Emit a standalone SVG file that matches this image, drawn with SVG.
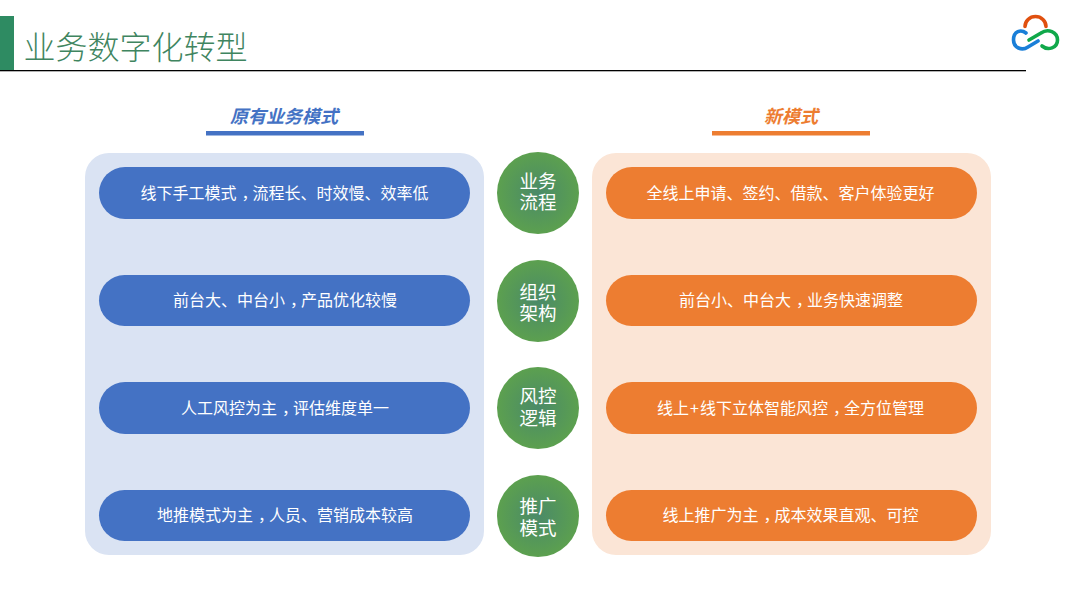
<svg xmlns="http://www.w3.org/2000/svg" width="1074" height="594" viewBox="0 0 1074 594">
<style>
text{font-family:"Noto Sans CJK SC","Liberation Sans",sans-serif;text-anchor:middle}
.pb{fill:#4472c4}.po{fill:#ed7d31}
.p{fill:#fff;font-size:16px}
.k{font-feature-settings:"halt"}
.c{fill:url(#g)}
.ct{fill:#fff;font-size:18.5px}
.h{font-size:18px;font-weight:700;font-style:italic}
</style>
<defs>
<radialGradient id="g"><stop offset="0" stop-color="#4a8a68"/><stop offset="1" stop-color="#5ca04f"/></radialGradient>
</defs>
<rect width="1074" height="594" fill="#fff"/>
<g id="header">
<rect x="0" y="16" width="14" height="54" fill="#2e8b62"/>
<text x="135.500" y="59" font-size="32" fill="#3f8560" style="font-weight:300">业务数字化转型</text>
<rect x="0" y="70" width="1026" height="1.3" fill="#000"/>
</g>
<g id="logo" fill="none" stroke-width="3.6" stroke-linecap="round">
<path d="M1025 26.500A10.500 10 0 0 1 1046 26.500" stroke="#e0500f"/>
<path d="M1026 33C1021 29 1013.500 31 1013.500 40C1013.500 48 1022 51 1028 47L1038 41" stroke="#1a7fd8"/>
<path d="M1029 40L1041 33C1048 28 1057.500 32 1057.500 40C1057.500 48 1048 51 1042 46" stroke="#10a84a"/>
</g>
<g id="title-left">
<text x="284" y="123" class="h" fill="#4472c4">原有业务模式</text>
<rect x="206" y="131" width="158" height="4.500" fill="#4472c4"/>
</g>
<g id="title-right">
<text x="791" y="123" class="h" fill="#ed7d31">新模式</text>
<rect x="712" y="131" width="158" height="4.500" fill="#ed7d31"/>
</g>
<g id="panel-left"><rect x="85" y="153" width="399" height="402" rx="24" fill="#dae3f3"/></g>
<g id="panel-right"><rect x="592" y="153" width="399" height="402" rx="24" fill="#fbe5d6"/></g>
<g id="l1"><rect class="pb" x="99" y="167" width="371" height="52" rx="26"/><text class="p" x="284.500" y="199">线下手工模式<tspan class="k" dx="5">，</tspan><tspan dx="3">流程长、时效慢、效率低</tspan></text></g>
<g id="l2"><rect class="pb" x="99" y="275" width="371" height="51" rx="25.500"/><text class="p" x="285" y="306">前台大、中台小<tspan class="k" dx="5">，</tspan><tspan dx="3">产品优化较慢</tspan></text></g>
<g id="l3"><rect class="pb" x="99" y="382" width="371" height="52" rx="26"/><text class="p" x="285" y="414">人工风控为主<tspan class="k" dx="5">，</tspan><tspan dx="3">评估维度单一</tspan></text></g>
<g id="l4"><rect class="pb" x="99" y="490" width="371" height="51" rx="25.500"/><text class="p" x="285" y="521">地推模式为主<tspan class="k" dx="5">，</tspan><tspan dx="3">人员、营销成本较高</tspan></text></g>
<g id="r1"><rect class="po" x="606" y="167" width="371" height="52" rx="26"/><text class="p" x="790.500" y="199">全线上申请、签约、借款、客户体验更好</text></g>
<g id="r2"><rect class="po" x="606" y="275" width="371" height="51" rx="25.500"/><text class="p" x="791" y="306">前台小、中台大<tspan class="k" dx="5">，</tspan><tspan dx="3">业务快速调整</tspan></text></g>
<g id="r3"><rect class="po" x="606" y="382" width="371" height="52" rx="26"/><text class="p" x="790.500" y="414">线上<tspan dx="1">+</tspan><tspan dx="1">线下立体智能风控</tspan><tspan class="k" dx="5">，</tspan><tspan dx="3">全方位管理</tspan></text></g>
<g id="r4"><rect class="po" x="606" y="490" width="371" height="51" rx="25.500"/><text class="p" x="790.500" y="521">线上推广为主<tspan class="k" dx="5">，</tspan><tspan dx="3">成本效果直观、可控</tspan></text></g>
<g id="c1"><circle class="c" cx="538" cy="193" r="41"/><text class="ct" x="538" y="188">业务<tspan x="538" dy="21">流程</tspan></text></g>
<g id="c2"><circle class="c" cx="538" cy="301" r="41"/><text class="ct" x="538" y="299">组织<tspan x="538" dy="21">架构</tspan></text></g>
<g id="c3"><circle class="c" cx="538" cy="408" r="41"/><text class="ct" x="538" y="403">风控<tspan x="538" dy="22">逻辑</tspan></text></g>
<g id="c4"><circle class="c" cx="538" cy="516" r="41"/><text class="ct" x="538" y="513">推广<tspan x="538" dy="22">模式</tspan></text></g>
<g id="connectors"></g>
</svg>
